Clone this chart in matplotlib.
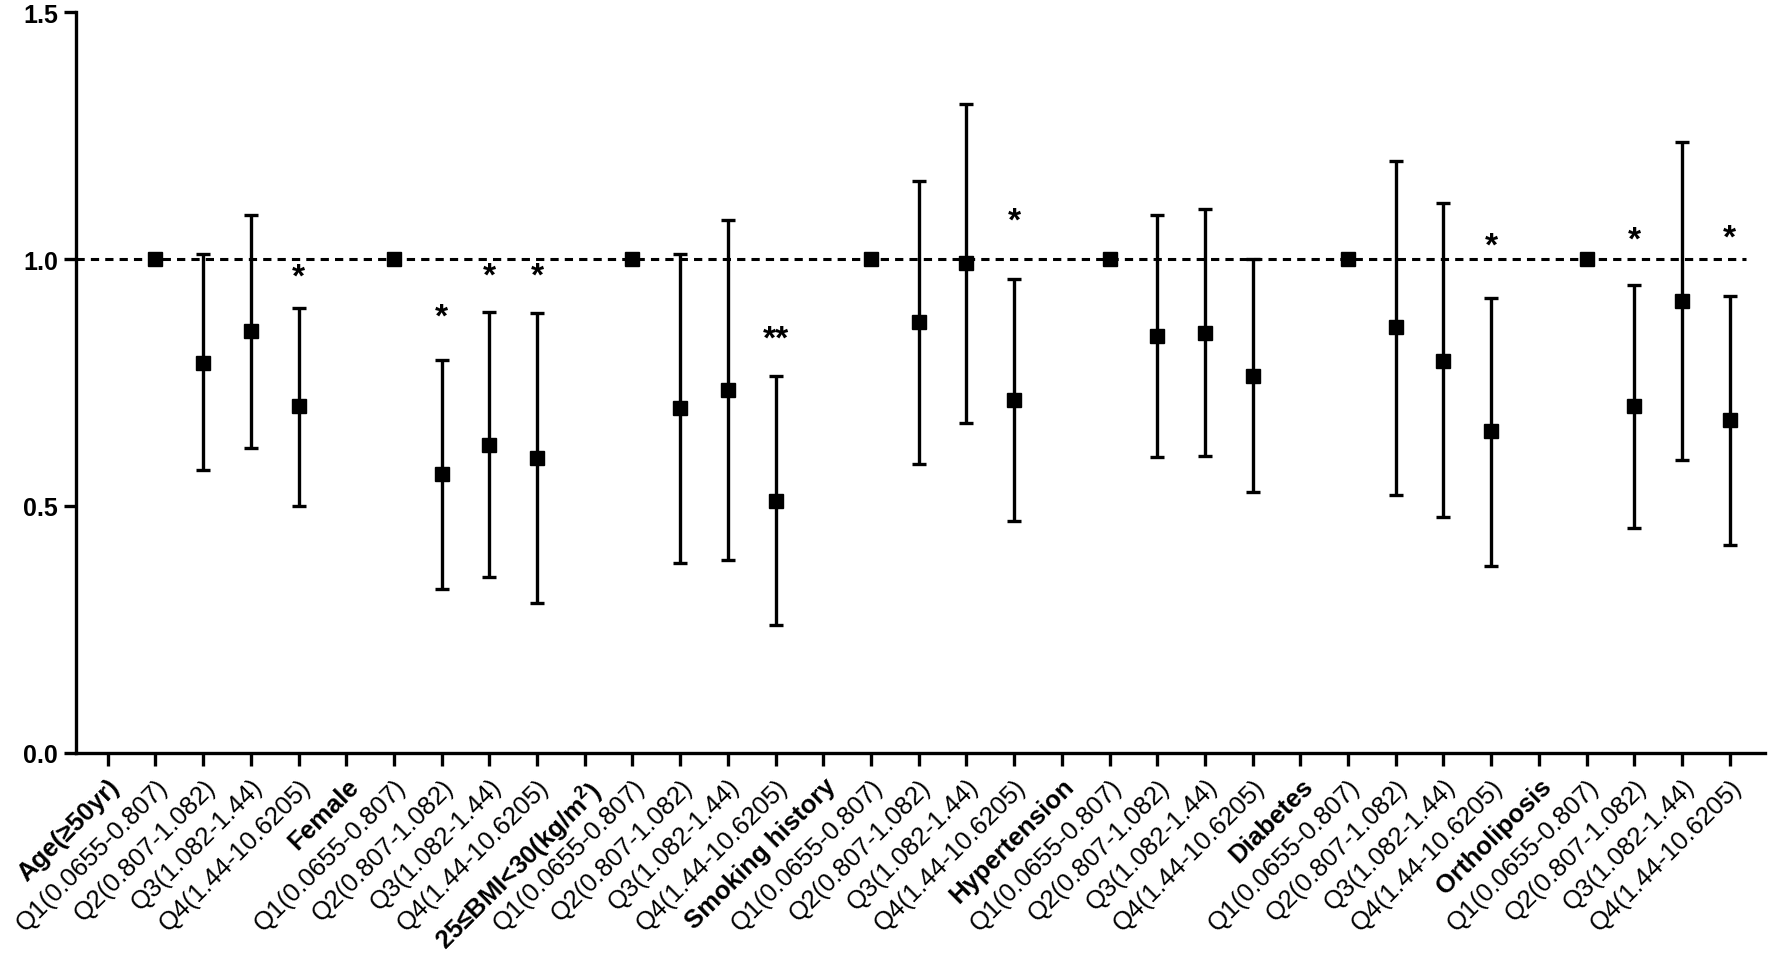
import matplotlib
matplotlib.use("Agg")
import matplotlib.pyplot as plt

plt.rcParams['font.family'] = ['Liberation Sans', 'DejaVu Sans']
plt.rcParams['mathtext.fontset'] = 'custom'
plt.rcParams['mathtext.rm'] = 'Liberation Sans'
plt.rcParams['mathtext.bf'] = 'Liberation Sans:bold'

groups = ["Age(≥50yr)", "Female", "25≤BMI<30(kg/m$^{\\mathbf{2}}$)", "Smoking history",
          "Hypertension", "Diabetes", "Ortholiposis"]
quartiles = ["Q1(0.0655-0.807)", "Q2(0.807-1.082)", "Q3(1.082-1.44)", "Q4(1.44-10.6205)"]

or_values = [
    [1.0, 0.790, 0.855, 0.702],
    [1.0, 0.565, 0.623, 0.598],
    [1.0, 0.698, 0.734, 0.510],
    [1.0, 0.872, 0.991, 0.715],
    [1.0, 0.845, 0.851, 0.764],
    [1.0, 0.862, 0.794, 0.651],
    [1.0, 0.702, 0.915, 0.675],
]
ci_lower = [
    [1.0, 0.572, 0.618, 0.500],
    [1.0, 0.332, 0.356, 0.304],
    [1.0, 0.384, 0.390, 0.259],
    [1.0, 0.585, 0.669, 0.469],
    [1.0, 0.599, 0.601, 0.528],
    [1.0, 0.523, 0.478, 0.379],
    [1.0, 0.456, 0.593, 0.421],
]
ci_upper = [
    [1.0, 1.011, 1.090, 0.901],
    [1.0, 0.795, 0.892, 0.890],
    [1.0, 1.010, 1.079, 0.763],
    [1.0, 1.157, 1.314, 0.960],
    [1.0, 1.090, 1.102, 1.000],
    [1.0, 1.199, 1.113, 0.922],
    [1.0, 0.947, 1.236, 0.925],
]
sig_marks = [
    ["", "", "", "*"],
    ["", "*", "*", "*"],
    ["", "", "", "**"],
    ["", "", "", "*"],
    ["", "", "", ""],
    ["", "", "", "*"],
    ["", "*", "", "*"],
]
sig_heights = [
    [0, 0, 0, 0.963],
    [0, 0.882, 0.966, 0.966],
    [0, 0, 0, 0.837],
    [0, 0, 0, 1.076],
    [0, 0, 0, 0],
    [0, 0, 0, 1.026],
    [0, 1.038, 0, 1.043],
]
y_ticks = [0.0, 0.5, 1.0, 1.5]
reference_value = 1.0

W, H = 1772, 954
fig = plt.figure(figsize=(W / 100, H / 100), dpi=100)
ax = fig.add_axes([76 / W, 1 - 754 / H, (1765 - 76) / W, (754 - 13) / H])

labels = []
is_header = []
for g, name in enumerate(groups):
    labels.append(name)
    is_header.append(True)
    for q in quartiles:
        labels.append(q)
        is_header.append(False)

xs, ys, lo, hi = [], [], [], []
pos = 0
for g in range(len(groups)):
    pos += 1
    for q in range(len(quartiles)):
        v = or_values[g][q]
        xs.append(pos)
        ys.append(v)
        lo.append(v - ci_lower[g][q])
        hi.append(ci_upper[g][q] - v)
        if sig_marks[g][q]:
            ax.text(pos, sig_heights[g][q], sig_marks[g][q], ha='center', va='center',
                    fontsize=24, fontweight='bold', color='black')
        pos += 1

ax.set_xlim(-0.665, 34.74)
ax.set_ylim(0, 1.5)

ax.plot([-0.665, 34.35], [reference_value, reference_value], color='black', lw=2.2,
        linestyle=(0, (2.7, 2.0)), zorder=1)

for x, y, l, h in zip(xs, ys, lo, hi):
    if l == 0 and h == 0:
        ax.plot([x], [y], marker='s', ms=10.5, color='black', zorder=3)
    else:
        ax.errorbar([x], [y], yerr=[[l], [h]], fmt='s', ms=10.5, color='black',
                    ecolor='black', elinewidth=2.4, capsize=5, capthick=2.4, zorder=3)

ax.spines['top'].set_visible(False)
ax.spines['right'].set_visible(False)
for s in ['left', 'bottom']:
    ax.spines[s].set_linewidth(2.4)

ax.set_yticks(y_ticks)
ax.set_yticklabels([f"{t:.1f}" for t in y_ticks], fontsize=18, fontweight='bold')
ax.set_xticks(range(len(labels)))
ax.set_xticklabels(labels, rotation=45, ha='right', rotation_mode='anchor', fontsize=18.5)
for tl, hd in zip(ax.get_xticklabels(), is_header):
    if hd:
        tl.set_fontweight('bold')
ax.tick_params(axis='both', direction='out', length=9, width=2.4, colors='black')
ax.tick_params(axis='x', pad=6)
ax.tick_params(axis='y', pad=4)

fig.savefig("out.png", dpi=100)
